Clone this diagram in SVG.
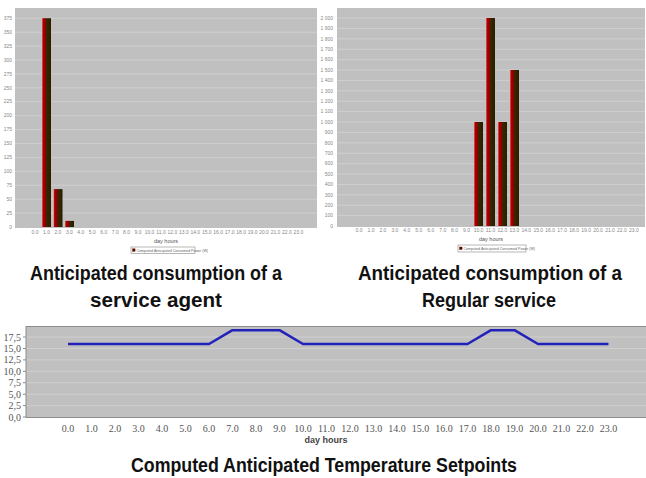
<svg xmlns="http://www.w3.org/2000/svg" width="646" height="478" viewBox="0 0 646 478">
  <defs>
    <linearGradient id="barFill" x1="0" y1="0" x2="1" y2="0">
      <stop offset="0" stop-color="#e87878"/>
      <stop offset="0.12" stop-color="#b00000"/>
      <stop offset="0.4" stop-color="#8a0000"/>
      <stop offset="0.5" stop-color="#3a2600"/>
      <stop offset="1" stop-color="#2a1e00"/>
    </linearGradient>
    <style>
      .plot { fill: #c0c0c0; }
      .grid { stroke: #cfcfcf; stroke-width: 1; fill: none; }
      .axis { stroke: #8c8c8c; stroke-width: 1; fill: none; }
      .bar { fill: url(#barFill); }
      .tiny { font-family: "Liberation Sans", Arial, sans-serif; font-size: 5px; fill: #888; }
      .tiny-y { text-anchor: end; }
      .tiny-x { text-anchor: middle; }
      .axis-name { font-family: "Liberation Sans", Arial, sans-serif; font-size: 5.5px; fill: #555; text-anchor: middle; }
      .legend-box { fill: #ffffff; stroke: #888; stroke-width: 0.6; }
      .legend-text { font-family: "Liberation Sans", Arial, sans-serif; font-size: 3.6px; fill: #666; }
      .tick-lbl { font-family: "Liberation Serif", "Times New Roman", serif; font-size: 10px; fill: #555; }
      .caption { font-family: "Liberation Sans", Arial, sans-serif; font-size: 20px; font-weight: bold; fill: #111; text-anchor: middle; }
      .series { stroke: #2222bb; stroke-width: 2.6; fill: none; stroke-linejoin: round; }
    </style>
  </defs>

  <rect width="646" height="478" fill="#ffffff"/>

  <!-- Bar chart: service agent -->
  <g id="chart-agent">
    <rect class="plot" x="15" y="8" width="302" height="220"/>
    <path class="grid" d="M15 213.1H317M15 199.2H317M15 185.2H317M15 171.3H317M15 157.4H317M15 143.5H317M15 129.6H317M15 115.7H317M15 101.7H317M15 87.8H317M15 73.9H317M15 60H317M15 46.1H317M15 32.2H317M15 18.2H317"/>
    <rect class="bar" x="42" y="18.2" width="9" height="208.8"/>
    <rect class="bar" x="53.5" y="189.1" width="9" height="37.9"/>
    <rect class="bar" x="65" y="220.9" width="9" height="6.1"/>
    <g class="tiny tiny-y">
      <text x="12" y="228.7">0</text>
      <text x="12" y="214.8">25</text>
      <text x="12" y="200.9">50</text>
      <text x="12" y="186.9">75</text>
      <text x="12" y="173">100</text>
      <text x="12" y="159.1">125</text>
      <text x="12" y="145.2">150</text>
      <text x="12" y="131.3">175</text>
      <text x="12" y="117.4">200</text>
      <text x="12" y="103.4">225</text>
      <text x="12" y="89.5">250</text>
      <text x="12" y="75.6">275</text>
      <text x="12" y="61.7">300</text>
      <text x="12" y="47.8">325</text>
      <text x="12" y="33.9">350</text>
      <text x="12" y="19.9">375</text>
    </g>
    <g class="tiny tiny-x">
      <text x="35" y="234">0.0</text>
      <text x="46.5" y="234">1.0</text>
      <text x="57.9" y="234">2.0</text>
      <text x="69.4" y="234">3.0</text>
      <text x="80.8" y="234">4.0</text>
      <text x="92.3" y="234">5.0</text>
      <text x="103.7" y="234">6.0</text>
      <text x="115.2" y="234">7.0</text>
      <text x="126.6" y="234">8.0</text>
      <text x="138.1" y="234">9.0</text>
      <text x="149.5" y="234">10.0</text>
      <text x="161" y="234">11.0</text>
      <text x="172.4" y="234">12.0</text>
      <text x="183.9" y="234">13.0</text>
      <text x="195.3" y="234">14.0</text>
      <text x="206.8" y="234">15.0</text>
      <text x="218.2" y="234">16.0</text>
      <text x="229.7" y="234">17.0</text>
      <text x="241.1" y="234">18.0</text>
      <text x="252.6" y="234">19.0</text>
      <text x="264" y="234">20.0</text>
      <text x="275.5" y="234">21.0</text>
      <text x="286.9" y="234">22.0</text>
      <text x="298.4" y="234">23.0</text>
    </g>
    <text class="axis-name" x="166" y="243">day hours</text>
    <rect class="legend-box" x="131" y="247" width="64" height="6.5"/>
    <rect x="132.5" y="248.8" width="2.6" height="2.6" fill="#2a1e00" stroke="#b00000" stroke-width="0.4"/>
    <text class="legend-text" x="136.5" y="251.6">Computed Anticipated Consumed Power (W)</text>
  </g>

  <!-- Bar chart: regular service -->
  <g id="chart-regular">
    <rect class="plot" x="337" y="8" width="308" height="219"/>
    <path class="grid" d="M337 215.6H645M337 205.2H645M337 194.8H645M337 184.4H645M337 174H645M337 163.6H645M337 153.2H645M337 142.8H645M337 132.4H645M337 122H645M337 111.6H645M337 101.2H645M337 90.8H645M337 80.4H645M337 70H645M337 59.6H645M337 49.2H645M337 38.8H645M337 28.4H645M337 18H645"/>
    <rect class="bar" x="474" y="122" width="9" height="104"/>
    <rect class="bar" x="486" y="18" width="9" height="208"/>
    <rect class="bar" x="498" y="122" width="9" height="104"/>
    <rect class="bar" x="510" y="70" width="9" height="156"/>
    <g class="tiny tiny-y">
      <text x="333" y="227.7">0</text>
      <text x="333" y="217.3">100</text>
      <text x="333" y="206.9">200</text>
      <text x="333" y="196.5">300</text>
      <text x="333" y="186.1">400</text>
      <text x="333" y="175.7">500</text>
      <text x="333" y="165.3">600</text>
      <text x="333" y="154.9">700</text>
      <text x="333" y="144.5">800</text>
      <text x="333" y="134.1">900</text>
      <text x="333" y="123.7">1 000</text>
      <text x="333" y="113.3">1 100</text>
      <text x="333" y="102.9">1 200</text>
      <text x="333" y="92.5">1 300</text>
      <text x="333" y="82.1">1 400</text>
      <text x="333" y="71.7">1 500</text>
      <text x="333" y="61.3">1 600</text>
      <text x="333" y="50.9">1 700</text>
      <text x="333" y="40.5">1 800</text>
      <text x="333" y="30.1">1 900</text>
      <text x="333" y="19.7">2 000</text>
    </g>
    <g class="tiny tiny-x">
      <text x="359" y="232">0.0</text>
      <text x="371" y="232">1.0</text>
      <text x="382.9" y="232">2.0</text>
      <text x="394.9" y="232">3.0</text>
      <text x="406.8" y="232">4.0</text>
      <text x="418.8" y="232">5.0</text>
      <text x="430.7" y="232">6.0</text>
      <text x="442.7" y="232">7.0</text>
      <text x="454.6" y="232">8.0</text>
      <text x="466.6" y="232">9.0</text>
      <text x="478.5" y="232">10.0</text>
      <text x="490.5" y="232">11.0</text>
      <text x="502.4" y="232">12.0</text>
      <text x="514.4" y="232">13.0</text>
      <text x="526.3" y="232">14.0</text>
      <text x="538.3" y="232">15.0</text>
      <text x="550.2" y="232">16.0</text>
      <text x="562.2" y="232">17.0</text>
      <text x="574.1" y="232">18.0</text>
      <text x="586.1" y="232">19.0</text>
      <text x="598" y="232">20.0</text>
      <text x="610" y="232">21.0</text>
      <text x="621.9" y="232">22.0</text>
      <text x="633.9" y="232">23.0</text>
    </g>
    <text class="axis-name" x="491" y="241">day hours</text>
    <rect class="legend-box" x="458" y="245" width="68" height="7"/>
    <rect x="459.5" y="247" width="2.6" height="2.6" fill="#2a1e00" stroke="#b00000" stroke-width="0.4"/>
    <text class="legend-text" x="463.5" y="249.9">Computed Anticipated Consumed Power (W)</text>
  </g>

  <!-- Captions for the two bar charts -->
  <g id="caption-agent">
    <text class="caption" x="156" y="280" textLength="252" lengthAdjust="spacingAndGlyphs">Anticipated consumption of a</text>
    <text class="caption" x="156" y="307" textLength="132" lengthAdjust="spacingAndGlyphs">service agent</text>
  </g>
  <g id="caption-regular">
    <text class="caption" x="490" y="280" textLength="264" lengthAdjust="spacingAndGlyphs">Anticipated consumption of a</text>
    <text class="caption" x="489" y="307" textLength="134" lengthAdjust="spacingAndGlyphs">Regular service</text>
  </g>

  <!-- Line chart: temperature setpoints -->
  <g id="chart-setpoints">
    <rect class="plot" x="26" y="326" width="620" height="91"/>
    <path class="grid" d="M26 405.6H646M26 394.2H646M26 382.7H646M26 371.3H646M26 359.9H646M26 348.5H646M26 337H646"/>
    <path class="axis" d="M26 326V417.5H646M26 326.5H646"/>
    <path class="axis" d="M23 417H26M23 405.6H26M23 394.2H26M23 382.7H26M23 371.3H26M23 359.9H26M23 348.5H26M23 337H26"/>
    <g class="tick-lbl" text-anchor="end">
      <text x="21" y="420.5">0,0</text>
      <text x="21" y="409.1">2,5</text>
      <text x="21" y="397.7">5,0</text>
      <text x="21" y="386.2">7,5</text>
      <text x="21" y="374.8">10,0</text>
      <text x="21" y="363.4">12,5</text>
      <text x="21" y="352">15,0</text>
      <text x="21" y="340.5">17,5</text>
    </g>
    <g class="tick-lbl" text-anchor="middle">
      <text x="68" y="432">0.0</text>
      <text x="91.5" y="432">1.0</text>
      <text x="115" y="432">2.0</text>
      <text x="138.5" y="432">3.0</text>
      <text x="162" y="432">4.0</text>
      <text x="185.5" y="432">5.0</text>
      <text x="209" y="432">6.0</text>
      <text x="232.5" y="432">7.0</text>
      <text x="256" y="432">8.0</text>
      <text x="279.5" y="432">9.0</text>
      <text x="303" y="432">10.0</text>
      <text x="326.5" y="432">11.0</text>
      <text x="350" y="432">12.0</text>
      <text x="373.5" y="432">13.0</text>
      <text x="397" y="432">14.0</text>
      <text x="420.5" y="432">15.0</text>
      <text x="444" y="432">16.0</text>
      <text x="467.5" y="432">17.0</text>
      <text x="491" y="432">18.0</text>
      <text x="514.5" y="432">19.0</text>
      <text x="538" y="432">20.0</text>
      <text x="561.5" y="432">21.0</text>
      <text x="585" y="432">22.0</text>
      <text x="608.5" y="432">23.0</text>
    </g>
    <text x="326" y="443" font-family="'Liberation Sans', Arial, sans-serif" font-size="9px" font-weight="bold" fill="#444" text-anchor="middle">day hours</text>
    <polyline class="series" points="68,344 209,344 232.5,330.2 279.5,330.2 303,344 467.5,344 491,330.2 514.5,330.2 538,344 608.5,344"/>
  </g>

  <g id="caption-setpoints">
    <text class="caption" x="324" y="472" textLength="386" lengthAdjust="spacingAndGlyphs">Computed Anticipated Temperature Setpoints</text>
  </g>
</svg>
